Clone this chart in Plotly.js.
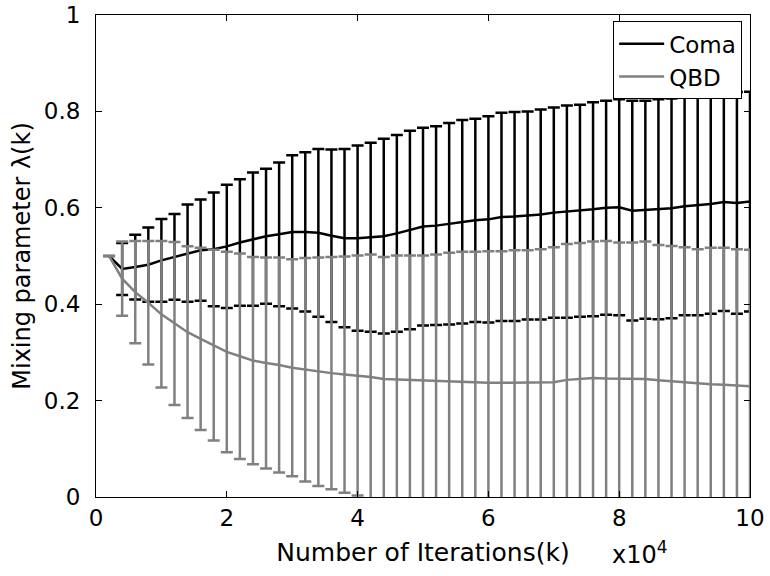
<!DOCTYPE html>
<html>
<head>
<meta charset="utf-8">
<script src="https://cdn.plot.ly/plotly-3.0.1.min.js"></script>
<style>
html,body{margin:0;padding:0;background:#fff;}
#chart{width:770px;height:576px;}
</style>
</head>
<body>
<div id="chart"></div>
<script>
// Number of iterations (in units of 10^4)
const iterations = [0.2,0.4,0.6,0.8,1.0,1.2,1.4,1.6,1.8,2.0,
                    2.2,2.4,2.6,2.8,3.0,3.2,3.4,3.6,3.8,4.0,
                    4.2,4.4,4.6,4.8,5.0,5.2,5.4,5.6,5.8,6.0,
                    6.2,6.4,6.6,6.8,7.0,7.2,7.4,7.6,7.8,8.0,
                    8.2,8.4,8.6,8.8,9.0,9.2,9.4,9.6,9.8,10.0];

// Coma: mean mixing parameter and its spread
const comaMean = [0.500,0.473,0.477,0.482,0.491,0.498,0.506,0.512,0.514,0.520,
                  0.528,0.535,0.541,0.545,0.550,0.550,0.548,0.542,0.537,0.537,
                  0.539,0.541,0.547,0.554,0.561,0.563,0.567,0.571,0.574,0.576,
                  0.581,0.582,0.584,0.586,0.590,0.592,0.594,0.597,0.600,0.601,
                  0.594,0.596,0.597,0.599,0.603,0.605,0.608,0.612,0.610,0.613];
const comaStd  = [0.000,0.054,0.067,0.077,0.086,0.089,0.101,0.105,0.118,0.128,
                  0.131,0.138,0.140,0.149,0.159,0.165,0.174,0.179,0.185,0.192,
                  0.196,0.202,0.204,0.206,0.205,0.206,0.209,0.211,0.211,0.214,
                  0.216,0.217,0.216,0.218,0.218,0.220,0.220,0.222,0.222,0.224,
                  0.228,0.226,0.228,0.228,0.226,0.228,0.228,0.226,0.230,0.228];

// QBD: mean mixing parameter and its spread
const qbdMean  = [0.500,0.453,0.425,0.403,0.379,0.360,0.342,0.328,0.315,0.301,
                  0.292,0.283,0.278,0.274,0.268,0.264,0.260,0.257,0.254,0.252,
                  0.249,0.245,0.244,0.242,0.241,0.240,0.239,0.238,0.238,0.237,
                  0.237,0.237,0.237,0.237,0.238,0.243,0.245,0.247,0.246,0.246,
                  0.246,0.245,0.242,0.240,0.237,0.235,0.234,0.233,0.231,0.230];
const qbdStd   = [0.000,0.077,0.106,0.128,0.152,0.169,0.178,0.189,0.198,0.208,
                  0.213,0.215,0.219,0.223,0.225,0.232,0.237,0.241,0.245,0.249,
                  0.254,0.253,0.257,0.259,0.260,0.263,0.268,0.271,0.271,0.273,
                  0.273,0.275,0.275,0.277,0.280,0.282,0.282,0.283,0.285,0.282,
                  0.282,0.285,0.281,0.281,0.281,0.279,0.283,0.284,0.283,0.283];

const seriesNames = ['Coma', 'QBD'];
const xTickVals = [0,2,4,6,8,10];
const xTickText = ['0','2','4','6','8','10'];
const yTickVals = [0,0.2,0.4,0.6,0.8,1];
const yTickText = ['0','0.2','0.4','0.6','0.8','1'];

const BLACK = '#000000';
const GRAY = '#808080';

const traces = [
  {
    x: iterations, y: comaMean, name: seriesNames[0],
    type: 'scatter', mode: 'lines',
    line: {color: BLACK, width: 2.5},
    error_y: {type: 'data', array: comaStd, symmetric: true, visible: true,
              color: BLACK, thickness: 2.5, width: 6}
  },
  {
    x: iterations, y: qbdMean, name: seriesNames[1],
    type: 'scatter', mode: 'lines',
    line: {color: GRAY, width: 2.5},
    error_y: {type: 'data', array: qbdStd, symmetric: true, visible: true,
              color: GRAY, thickness: 2.5, width: 6}
  }
];

const axisCommon = {
  ticks: 'inside', ticklen: 6, tickwidth: 1, tickcolor: BLACK,
  showline: true, linecolor: BLACK, linewidth: 1, mirror: 'allticks',
  showgrid: false, zeroline: false, fixedrange: true
};

const layout = {
  width: 770, height: 576,
  margin: {l: 96, r: 20, t: 15, b: 79, pad: 0},
  paper_bgcolor: '#ffffff', plot_bgcolor: '#ffffff',
  font: {family: 'DejaVu Sans, sans-serif', size: 23, color: BLACK},
  showlegend: true,
  xaxis: Object.assign({}, axisCommon, {
    range: [0, 10], tickmode: 'array', tickvals: xTickVals, ticktext: xTickText,
    title: {text: 'Number of Iterations(k)', font: {size: 25}, standoff: 13}
  }),
  yaxis: Object.assign({}, axisCommon, {
    range: [0, 1], tickmode: 'array', tickvals: yTickVals, ticktext: yTickText,
    ticklabelstandoff: 10,
    title: {text: 'Mixing parameter λ(k)', font: {size: 24}, standoff: 6}
  }),
  legend: {
    x: 0.988, y: 0.987, xanchor: 'right', yanchor: 'top',
    bordercolor: BLACK, borderwidth: 1, bgcolor: '#ffffff',
    itemwidth: 45,
    font: {size: 23}
  },
  annotations: [{
    text: 'x10<sup>4</sup>', xref: 'paper', yref: 'paper',
    x: 0.786, y: -0.153, xanchor: 'left', yanchor: 'bottom',
    showarrow: false, font: {size: 24}
  }]
};

Plotly.newPlot('chart', traces, layout, {displayModeBar: false, staticPlot: true});
</script>
</body>
</html>
